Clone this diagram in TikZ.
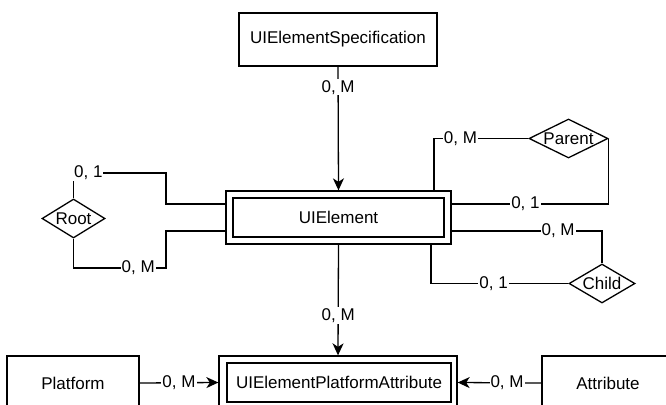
\documentclass[tikz,border=0pt]{standalone}
\usepackage{fontspec}
\setmainfont{Liberation Sans}
\usetikzlibrary{shapes.geometric,arrows.meta}
\begin{document}
\begin{tikzpicture}[x=1pt,y=-1pt,
  every node/.style={font=\fontsize{17}{20}\selectfont},
  ent/.style={draw, line width=1.3pt, rectangle, inner sep=0pt},
  rel/.style={draw, line width=1.3pt, diamond, aspect=2, inner sep=0pt},
  conn/.style={line width=1.3pt},
  arr/.style={conn, -{Stealth[length=12pt,width=11pt,inset=3.5pt]}},
  lbl/.style={fill=white, inner sep=1pt}]
\useasboundingbox (0,0) rectangle (666,404);
% entities
\node[ent, minimum width=198pt, minimum height=53pt] (spec) at (338,39.5) {UIElementSpecification};
\node[ent, minimum width=225pt, minimum height=53pt] (uie) at (338.5,217.5) {};
\node[ent, minimum width=211pt, minimum height=39pt] (uieIn) at (338.5,217.5) {UIElement};
\node[ent, minimum width=238pt, minimum height=53pt] (uepa) at (338,382.5) {};
\node[ent, minimum width=224pt, minimum height=39pt] (uepaIn) at (339,382.5) {UIElementPlatformAttribute};
\node[ent, minimum width=132pt, minimum height=54pt] (platform) at (73,383) {Platform};
\node[ent, minimum width=132pt, minimum height=54pt] (attribute) at (608,383) {Attribute};
% relationships
\node[rel, minimum width=79pt, minimum height=39pt] (parent) at (568.5,138.5) {Parent};
\node[rel, minimum width=66pt, minimum height=39pt] (child) at (602,283.5) {Child};
\node[rel, minimum width=63pt, minimum height=39pt] (root) at (73.5,218.5) {Root};
\coordinate (rootA) at (166,173);
\coordinate (rootB) at (166,268);
% connectors
\draw[arr] (spec.south) -- node[lbl, pos=0.168] {0, M} (uie.north);
\draw[conn] ([xshift=95.5pt]uie.north) |- node[lbl, pos=0.64] {0, M} (parent.west);
\draw[conn] (parent.east) |- node[lbl, pos=0.765] {0, 1} ([yshift=13.5pt]uie.east);
\draw[conn] ([yshift=-13.5pt]uie.east) -| node[lbl, pos=0.354] {0, M} (child.north);
\draw[conn] ([xshift=92.5pt]uie.south) |- node[lbl, pos=0.728] {0, 1} (child.west);
\draw[conn] (root.north) |- node[lbl, pos=0.58] {0, 1} (rootA) |- ([yshift=13.5pt]uie.west);
\draw[conn] (root.south) |- node[lbl, pos=0.85] {0, M} (rootB) |- ([yshift=-13.5pt]uie.west);
\draw[arr] (uie.south) -- node[lbl, pos=0.64] {0, M} (uepa.north);
\draw[arr] (platform.east) -- node[lbl, pos=0.5] {0, M} (uepa.west);
\draw[arr] (attribute.west) -- node[lbl, pos=0.41] {0, M} (uepa.east);
\end{tikzpicture}
\end{document}
